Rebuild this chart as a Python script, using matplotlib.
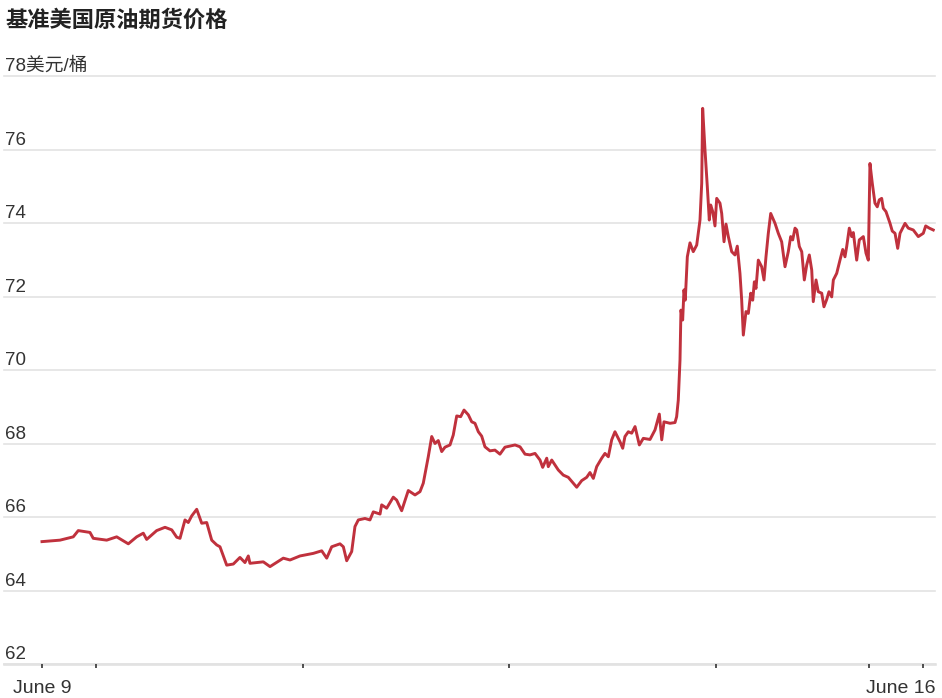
import matplotlib
matplotlib.use("Agg")
import matplotlib.pyplot as plt
import matplotlib.transforms as mtransforms

plt.rcParams['font.family'] = ['Liberation Sans', 'Noto Sans CJK SC', 'DejaVu Sans']

# Trading hours elapsed since June 9 (weekend removed) and price in USD/barrel
hours = [0.00, 2.09, 3.63, 4.21, 5.57, 5.95, 7.51, 8.67, 10.02, 10.99, 11.76, 12.15, 13.31, 14.28,
         15.06, 15.64, 16.02, 16.60, 16.98, 17.38, 17.96, 18.54, 19.12, 19.70, 20.28, 20.66, 21.44,
         22.21, 22.98, 23.56, 23.95, 24.14, 25.69, 26.47, 28.01, 28.79, 29.95, 31.49, 32.47, 33.05,
         33.63, 34.59, 34.98, 35.37, 35.95,
         36.33, 36.72, 37.49, 38.07, 38.46, 39.24, 39.43, 40.01, 40.78, 41.17, 41.75, 42.52, 43.30,
         43.88, 44.26, 44.84, 45.24, 45.62, 46.00, 46.40, 46.78, 47.36, 47.74, 48.14, 48.60, 48.99,
         49.49, 49.88, 50.26, 50.65, 51.04, 51.42, 52.00, 52.58, 53.16, 53.74, 54.33, 54.91, 55.49,
         56.07, 56.65, 57.23, 57.81, 58.12, 58.59, 58.77, 59.17, 59.93, 60.51, 61.09, 61.67, 62.07,
         62.65, 63.23, 63.61, 64.00, 64.39, 64.97, 65.35, 65.74, 66.13, 66.51, 67.09, 67.41, 67.67,
         68.06, 68.45, 68.84, 69.34, 69.80, 70.58, 71.16, 71.66, 71.94, 72.20, 72.90, 73.48,
         73.67, 73.86, 74.06, 74.17, 74.37, 74.52, 74.67, 74.91, 75.22, 75.60, 76.00, 76.38, 76.58,
         76.69, 76.96, 77.23, 77.46, 77.62, 77.86, 78.12, 78.32, 78.70, 78.90, 79.17, 79.40, 79.67,
         80.06, 80.44, 80.71, 81.02, 81.22, 81.41, 81.72, 81.99, 82.27, 82.50, 82.69, 82.88, 83.15,
         83.54, 83.81, 84.04, 84.31, 84.59, 85.09, 85.47, 85.86, 86.25, 86.63, 86.91, 87.14, 87.41,
         87.61, 87.91, 88.19, 88.49, 88.77, 89.07, 89.35, 89.53, 89.85, 90.11, 90.51, 90.77, 91.09,
         91.35, 91.67, 91.86, 92.25, 92.63, 92.95, 93.21, 93.41, 93.71, 93.99, 94.18, 94.57, 94.87,
         95.34, 95.65, 95.92, 96.11, 96.38, 96.69, 96.96, 97.19, 97.47, 97.66, 97.97, 98.44, 98.70,
         99.02, 99.33, 99.60, 100.18, 100.56, 101.14, 101.72, 102.30, 102.58, 103.00, 103.46]

prices = [65.33, 65.37, 65.46, 65.63, 65.58, 65.42, 65.37, 65.46, 65.27, 65.46, 65.56, 65.39, 65.63, 65.72,
          65.65, 65.45, 65.42, 65.92, 65.85, 66.03, 66.21, 65.83, 65.85, 65.37, 65.24, 65.19, 64.69,
          64.72, 64.90, 64.76, 64.94, 64.74, 64.78, 64.65, 64.88, 64.83, 64.94, 65.01, 65.08, 64.88,
          65.19, 65.27, 65.19, 64.81, 65.06,
          65.74, 65.92, 65.96, 65.92, 66.14, 66.08, 66.33, 66.24, 66.54, 66.46, 66.17, 66.72, 66.60,
          66.69, 66.92, 67.64, 68.19, 68.00, 68.08, 67.78, 67.90, 67.96, 68.23, 68.75, 68.73, 68.91,
          68.78, 68.59, 68.55, 68.32, 68.20, 67.91, 67.80, 67.82, 67.71, 67.90, 67.93, 67.96, 67.91,
          67.71, 67.69, 67.73, 67.55, 67.35, 67.60, 67.37, 67.55, 67.28, 67.14, 67.08, 66.92, 66.81,
          66.99, 67.08, 67.21, 67.05, 67.37, 67.60, 67.73, 67.64, 68.10, 68.32, 68.05, 67.87, 68.19,
          68.32, 68.28, 68.46, 67.96, 68.14, 68.11, 68.37, 68.80, 68.10, 68.59, 68.55, 68.57,
          68.73, 69.18, 70.27, 71.63, 71.36, 72.18, 71.90, 73.08, 73.46, 73.22, 73.40, 74.08, 75.08,
          77.12, 75.99, 74.99, 74.08, 74.49, 74.31, 73.92, 74.67, 74.54, 74.26, 73.49, 73.97, 73.63,
          73.22, 73.13, 73.37, 72.63, 71.90, 70.95, 71.59, 71.54, 72.09, 71.90, 72.40, 72.22, 72.99,
          72.81, 72.45, 73.08, 73.72, 74.26, 73.99, 73.72, 73.49, 72.81, 73.22, 73.63, 73.54, 73.86,
          73.81, 73.36, 73.22, 72.45, 72.86, 73.13, 72.72, 71.86, 72.45, 72.13, 72.09, 71.72, 71.92,
          72.13, 71.99, 72.45, 72.63, 72.99, 73.28, 73.08, 73.36, 73.86, 73.63, 73.74, 72.99, 73.54,
          73.63, 73.18, 72.99, 75.62, 75.08, 74.54, 74.44, 74.63, 74.67, 74.40, 74.31, 73.99, 73.78,
          73.72, 73.31, 73.72, 73.99, 73.86, 73.81, 73.63, 73.72, 73.92, 73.86, 73.81]

y_ticks = [62, 64, 66, 68, 70, 72, 74, 76, 78]
y_labels = ['62', '64', '66', '68', '70', '72', '74', '76', '78美元/桶']
x_label_pos = [0, 96]
x_labels = ['June 9', 'June 16']
x_minor_ticks = [6.25, 30.25, 54.25, 78.25, 102.25]
title = '基准美国原油期货价格'

W, H = 942, 698
fig = plt.figure(figsize=(W / 100, H / 100), dpi=100)
fig.patch.set_facecolor('white')
ax = fig.add_axes([4 / W, 1 - 664 / H, 931 / W, (664 - 76) / H])
ax.set_facecolor('white')

ax.plot(hours, prices, color='#c0313d', lw=2.1, solid_joinstyle='round', zorder=3)

ax.set_xlim(-4.41, 103.66)
ax.set_ylim(62, 78)

for s in ['top', 'right', 'left']:
    ax.spines[s].set_visible(False)
ax.spines['bottom'].set_color('#dedede')
ax.spines['bottom'].set_linewidth(1.8)
ax.spines['bottom'].set_zorder(1)

ax.set_yticks(y_ticks)
ax.set_yticklabels([])
ax.tick_params(axis='y', length=0)
ax.yaxis.grid(True, color='#e3e3e3', lw=1.2)
for gl in ax.get_ygridlines():
    gl.set_clip_on(False)

ax.set_xticks(x_label_pos + x_minor_ticks)
ax.set_xticklabels([])
ax.tick_params(axis='x', direction='out', length=3, width=1.2, color='#333333')
ax.xaxis.set_zorder(2)

trans_y = mtransforms.blended_transform_factory(ax.transAxes, ax.transData)
for v, lab in zip(y_ticks, y_labels):
    ax.annotate(lab, xy=(0.0012, v), xycoords=trans_y, xytext=(0, 3.5), textcoords='offset points',
                ha='left', va='baseline', fontsize=13.5, color='#333333')

trans_x = mtransforms.blended_transform_factory(ax.transData, ax.transAxes)
ax.annotate(x_labels[0], xy=(x_label_pos[0], 0), xycoords=trans_x, xytext=(0.5, -21),
            textcoords='offset points', ha='center', va='baseline', fontsize=14, color='#333333')
ax.annotate(x_labels[1], xy=(x_label_pos[1], 0), xycoords=trans_x, xytext=(-2.3, -21),
            textcoords='offset points', ha='left', va='baseline', fontsize=14, color='#333333')

fig.text(5 / W, 1 - 27 / H, title, fontsize=16, fontweight='bold', color='#222222',
         ha='left', va='baseline', family=['Noto Sans CJK SC', 'DejaVu Sans'])

fig.savefig('out.png', dpi=100, facecolor='white')
